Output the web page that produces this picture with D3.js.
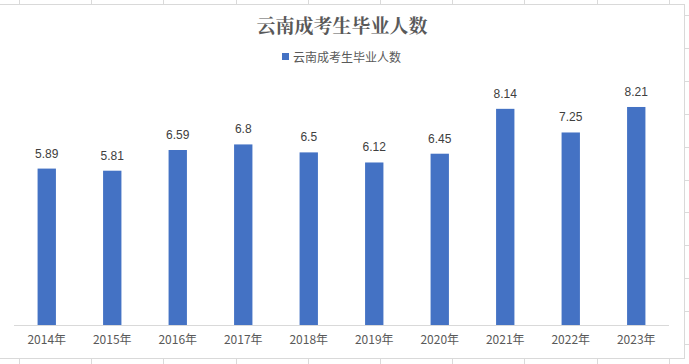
<!DOCTYPE html>
<html><head><meta charset="utf-8">
<script src="https://cdn.jsdelivr.net/npm/d3@7"></script>
<style>body{margin:0;background:#fff}svg{display:block}</style>
</head><body>
<script>
const categories = ["2014年","2015年","2016年","2017年","2018年","2019年","2020年","2021年","2022年","2023年"];
const values = [5.89,5.81,6.59,6.8,6.5,6.12,6.45,8.14,7.25,8.21];
const seriesName = "云南成考生毕业人数";
const title = "云南成考生毕业人数";

const W = 689, H = 364;
const svg = d3.select("body").append("svg").attr("width", W).attr("height", H);

// spreadsheet background grid
const colXs = d3.range(10).map(i => 19 + i * 72.2);
const rowYs = d3.range(11).map(i => 15 + i * 32.9);
const grid = svg.append("g").attr("stroke", "#dadada").attr("stroke-width", 1).attr("shape-rendering", "crispEdges");
colXs.forEach(x => {
  grid.append("line").attr("x1", Math.round(x)+0.5).attr("x2", Math.round(x)+0.5).attr("y1", 0).attr("y2", H);
});
rowYs.forEach(y => {
  grid.append("line").attr("x1", 0).attr("x2", W).attr("y1", Math.round(y)+0.5).attr("y2", Math.round(y)+0.5);
});

// chart area
const cx0 = -2, cy0 = 4, cx1 = 684, cy1 = 358;
svg.append("rect").attr("x", cx0 + 0.5).attr("y", cy0 + 0.5)
  .attr("width", cx1 - cx0).attr("height", cy1 - cy0)
  .attr("fill", "#fff").attr("stroke", "#d9d9d9").attr("stroke-width", 1);

// title
svg.append("text").attr("x", 342).attr("y", 33).attr("text-anchor", "middle")
  .attr("font-family", "'Noto Serif CJK SC','Noto Sans CJK SC',serif").attr("font-weight", "bold")
  .attr("font-size", 19).attr("fill", "#595959").text(title);

// legend
const lg = svg.append("g");
lg.append("rect").attr("x", 282).attr("y", 53).attr("width", 7).attr("height", 7).attr("fill", "#4472C4");
lg.append("text").attr("x", 293).attr("y", 61.5).attr("font-family", "'Noto Sans CJK SC',sans-serif")
  .attr("font-size", 12).attr("fill", "#595959").text(seriesName);

// scales
const x = d3.scaleBand().domain(categories).range([14, 669]).paddingInner(0.72).paddingOuter(0.36);
const y = d3.scaleLinear().domain([0, 9]).range([325, 86]);

// bars
svg.append("g").selectAll("rect").data(values).join("rect")
  .attr("x", (d, i) => x(categories[i])).attr("width", x.bandwidth())
  .attr("y", d => y(d)).attr("height", d => y(0) - y(d)).attr("fill", "#4472C4");

// value labels
svg.append("g").selectAll("text").data(values).join("text")
  .attr("x", (d, i) => x(categories[i]) + x.bandwidth() / 2)
  .attr("y", d => y(d) - 11).attr("text-anchor", "middle")
  .attr("font-family", "'Liberation Sans',Arial,sans-serif").attr("font-size", 12)
  .attr("fill", "#404040").text(d => d);

// x axis
const xAxis = d3.axisBottom(x).tickSize(0).tickPadding(10);
const ax = svg.append("g").attr("transform", "translate(0,325.5)").call(xAxis);
ax.select(".domain").attr("stroke", "#d9d9d9").attr("d", "M14,0H669");
ax.selectAll("text").attr("font-family", "'Noto Sans CJK SC',sans-serif").attr("font-size", 12)
  .attr("fill", "#595959").attr("dy", "0.71em");
</script>
</body></html>
